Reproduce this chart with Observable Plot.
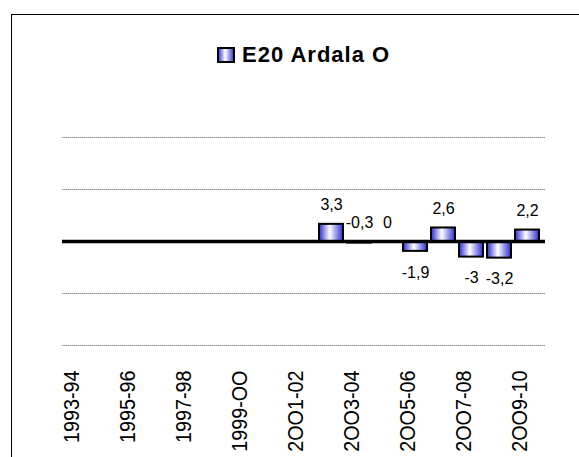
<!DOCTYPE html>
<html>
<head>
<meta charset="utf-8">
<script src="https://cdn.jsdelivr.net/npm/d3@7"></script>
<script src="https://cdn.jsdelivr.net/npm/@observablehq/plot@0.6"></script>
<style>
  html, body { margin: 0; padding: 0; background: #fff; }
  body { width: 579px; height: 457px; overflow: hidden; position: relative; font-family: "Liberation Sans", Arial, sans-serif; }
  #frame { position: absolute; left: 11px; top: 14px; width: 700px; height: 600px; border: 1.5px solid #000; box-sizing: border-box; }
  #chart { position: absolute; left: 0; top: 0; }
  #title { position: absolute; left: 217px; top: 44px; height: 22px; display: flex; align-items: center; font-weight: bold; font-size: 22px; letter-spacing: 1px; line-height: 22px; color: #000; white-space: nowrap; }
  #title svg { margin-right: 7px; }
</style>
</head>
<body>
<div id="frame"></div>
<div id="chart"></div>
<div id="title">
  <svg width="18" height="16">
    <defs>
      <linearGradient id="legGrad" x1="0" x2="1" y1="0" y2="0">
        <stop offset="0" stop-color="#2b2bd0"/>
        <stop offset="0.45" stop-color="#ffffff"/>
        <stop offset="1" stop-color="#2b2bd0"/>
      </linearGradient>
    </defs>
    <rect x="1" y="1" width="16" height="14" fill="url(#legGrad)" stroke="#000" stroke-width="2"/>
  </svg>
  <span>E20 Ardala O</span>
</div>
<script>
const categories = ["1993-94","1994-95","1995-96","1996-97","1997-98","1998-99","1999-00","2000-01","2001-02","2002-03","2003-04","2004-05","2005-06","2006-07","2007-08","2008-09","2009-10"];
const values = [null, null, null, null, null, null, null, null, null, 3.3, -0.3, 0, -1.9, 2.6, -3, -3.2, 2.2];
const tickCategories = ["1993-94","1995-96","1997-98","1999-00","2001-02","2003-04","2005-06","2007-08","2009-10"];
const tickLabels = ["1993-94","1995-96","1997-98","1999-OO","2OO1-02","2OO3-04","2OO5-06","2OO7-08","2OO9-10"];
const gridValues = [-20, -10, 10, 20];
const seriesName = "E20 Ardala O";

const data = categories.map((c, i) => ({cat: c, value: values[i]})).filter(d => d.value != null);
const fmt = v => String(v).replace(".", ",");

const svg = Plot.plot({
  width: 579,
  height: 457,
  marginLeft: 62,
  marginRight: 34,
  marginTop: 137,
  marginBottom: 112,
  x: {domain: categories, paddingInner: 0.14, paddingOuter: 0.07, axis: null, label: null},
  y: {domain: [-20, 20], axis: null, label: null},
  style: {fontFamily: "'Liberation Sans', Arial, sans-serif", background: "transparent", color: "#000"},
  marks: [
    Plot.ruleY(gridValues, {stroke: "#8c8c8c", strokeWidth: 1, strokeDasharray: "1.5,0.5"}),
    Plot.barY(data, {x: "cat", y: "value", fill: "url(#barGrad)", stroke: "#000", strokeWidth: 2}),
    Plot.ruleY([0], {stroke: "#000", strokeWidth: 3.5}),
    Plot.text(data.filter(d => d.value > -1), {x: "cat", y: d => Math.max(d.value, 0), text: d => fmt(d.value), dy: -19, fontSize: 16, fill: "#000"}),
    Plot.text(data.filter(d => d.value <= -1), {x: "cat", y: "value", text: d => fmt(d.value), dy: 21, fontSize: 16, fill: "#000"}),
    Plot.axisX(tickCategories, {
      anchor: "bottom",
      label: null,
      tickSize: 0,
      tickPadding: 25,
      tickRotate: -90,
      fontSize: 22,
      dx: -8,
      tickFormat: c => tickLabels[tickCategories.indexOf(c)],
      fill: "#000"
    })
  ]
});

const s = d3.select(svg);
const defs = s.insert("defs", ":first-child");
const g = defs.append("linearGradient").attr("id", "barGrad").attr("x1", 0).attr("x2", 1).attr("y1", 0).attr("y2", 0);
g.append("stop").attr("offset", 0).attr("stop-color", "#2b2bd0");
g.append("stop").attr("offset", 0.45).attr("stop-color", "#ffffff");
g.append("stop").attr("offset", 1).attr("stop-color", "#2b2bd0");

s.selectAll('g[aria-label="x-axis tick label"] text').each(function() {
  const t = this.getAttribute("transform") || "";
  this.setAttribute("transform", t + " scale(0.9,1)");
});

document.getElementById("chart").appendChild(svg);
</script>
</body>
</html>
